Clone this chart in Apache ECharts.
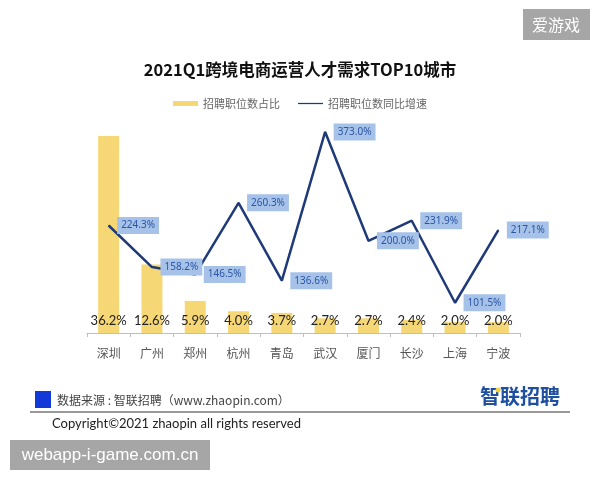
<!DOCTYPE html>
<html>
<head>
<meta charset="utf-8">
<script src="https://cdn.jsdelivr.net/npm/echarts@6/dist/echarts.min.js"></script>
<style>
  html, body { margin: 0; padding: 0; background: #fff; }
  #main { width: 600px; height: 480px; }
</style>
</head>
<body>
<div id="main"></div>
<script>
// 城市
var cities = ['深圳', '广州', '郑州', '杭州', '青岛', '武汉', '厦门', '长沙', '上海', '宁波'];
// 招聘职位数占比 (%)
var shareVals = [36.2, 12.6, 5.9, 4.0, 3.7, 2.7, 2.7, 2.4, 2.0, 2.0];
// 招聘职位数同比增速 (%)
var growthVals = [224.3, 158.2, 146.5, 260.3, 136.6, 373.0, 200.0, 231.9, 101.5, 217.1];

var cjk = '"Noto Sans CJK SC", "Noto Sans", sans-serif';

var chart = echarts.init(document.getElementById('main'));

var option = {
  backgroundColor: '#fff',
  animation: false,
  title: {
    text: '2021Q1跨境电商运营人才需求TOP10城市',
    left: 'center',
    top: 56,
    textStyle: {
      fontFamily: cjk,
      fontSize: 16.5,
      fontWeight: 'bold',
      color: '#111'
    }
  },
  legend: {
    top: 93,
    left: 'center',
    itemWidth: 25,
    itemHeight: 5,
    itemGap: 18,
    textStyle: { fontFamily: cjk, fontSize: 11, color: '#666' },
    data: [
      { name: '招聘职位数占比', icon: 'rect' },
      { name: '招聘职位数同比增速', icon: 'path://M0,0L50,0L50,2.5L0,2.5Z' }
    ]
  },
  grid: {
    left: 87,
    right: 80,
    top: 120,
    bottom: 147
  },
  xAxis: {
    type: 'category',
    data: cities,
    boundaryGap: true,
    axisLine: { lineStyle: { color: '#bfbfbf', width: 1 } },
    axisTick: { show: true, length: 4, lineStyle: { color: '#bfbfbf' } },
    axisLabel: {
      fontFamily: cjk,
      fontSize: 12,
      color: '#555',
      margin: 14
    }
  },
  yAxis: [
    {
      type: 'value',
      min: 0,
      max: 39.14,
      show: false,
      splitLine: { show: false }
    },
    {
      type: 'value',
      min: 53.4,
      max: 392,
      show: false,
      splitLine: { show: false }
    }
  ],
  series: [
    {
      name: '招聘职位数占比',
      type: 'bar',
      yAxisIndex: 0,
      barWidth: 21,
      data: shareVals,
      itemStyle: { color: '#f6d776' },
      label: {
        show: true,
        position: 'insideBottom',
        distance: 6,
        fontFamily: 'Lato, "Noto Sans", sans-serif',
        fontSize: 13,
        color: '#222',
        formatter: function (p) { return p.value.toFixed(1) + '%'; }
      }
    },
    {
      name: '招聘职位数同比增速',
      type: 'line',
      yAxisIndex: 1,
      data: growthVals,
      symbol: 'circle',
      symbolSize: 1,
      showSymbol: true,
      z: 5,
      lineStyle: { color: '#1f3a78', width: 2.5 },
      itemStyle: { color: '#1f3a78' },
      label: {
        show: true,
        position: 'right',
        distance: 8,
        fontFamily: '"Noto Sans", sans-serif',
        fontSize: 10,
        color: '#2a56a4',
        backgroundColor: '#a6c2e9',
        padding: [4, 4, 3, 4],
        formatter: function (p) { return p.value.toFixed(1) + '%'; }
      }
    }
  ],
  graphic: [
    // 右上角水印
    {
      type: 'rect',
      shape: { x: 523, y: 9, width: 67, height: 31 },
      style: { fill: '#a6a6a6' }
    },
    {
      type: 'text',
      x: 556, y: 25,
      style: {
        text: '爱游戏',
        font: '16px "Noto Sans CJK SC"',
        fill: '#fff',
        textAlign: 'center',
        textVerticalAlign: 'middle'
      }
    },
    // 数据来源
    {
      type: 'rect',
      shape: { x: 35, y: 391, width: 16, height: 17 },
      style: { fill: '#1238d8' }
    },
    {
      type: 'text',
      x: 57, y: 400,
      style: {
        text: '数据来源 : 智联招聘（www.zhaopin.com）',
        font: '12px "Noto Sans CJK SC"',
        fill: '#444',
        textVerticalAlign: 'middle'
      }
    },
    {
      type: 'text',
      x: 560, y: 396,
      style: {
        text: '智联招聘',
        font: 'bold 20px "Noto Sans CJK SC"',
        fill: '#1f4fa0',
        textAlign: 'right',
        textVerticalAlign: 'middle'
      }
    },
    {
      type: 'circle',
      shape: { cx: 498, cy: 390, r: 2.5 },
      style: { fill: '#f5d23c' },
      z: 10
    },
    {
      type: 'line',
      shape: { x1: 30, y1: 412, x2: 570, y2: 412 },
      style: { stroke: '#777', lineWidth: 1.5 }
    },
    {
      type: 'text',
      x: 52, y: 424,
      style: {
        text: 'Copyright\u00a92021 zhaopin all rights reserved',
        font: '13px Lato',
        fill: '#222',
        textVerticalAlign: 'middle'
      }
    },
    // 左下角水印
    {
      type: 'rect',
      shape: { x: 10, y: 440, width: 200, height: 30 },
      style: { fill: '#a6a6a6' }
    },
    {
      type: 'text',
      x: 110, y: 455,
      style: {
        text: 'webapp-i-game.com.cn',
        font: '17px "Liberation Sans"',
        fill: '#fff',
        textAlign: 'center',
        textVerticalAlign: 'middle'
      }
    }
  ]
};

chart.setOption(option);
</script>
</body>
</html>
